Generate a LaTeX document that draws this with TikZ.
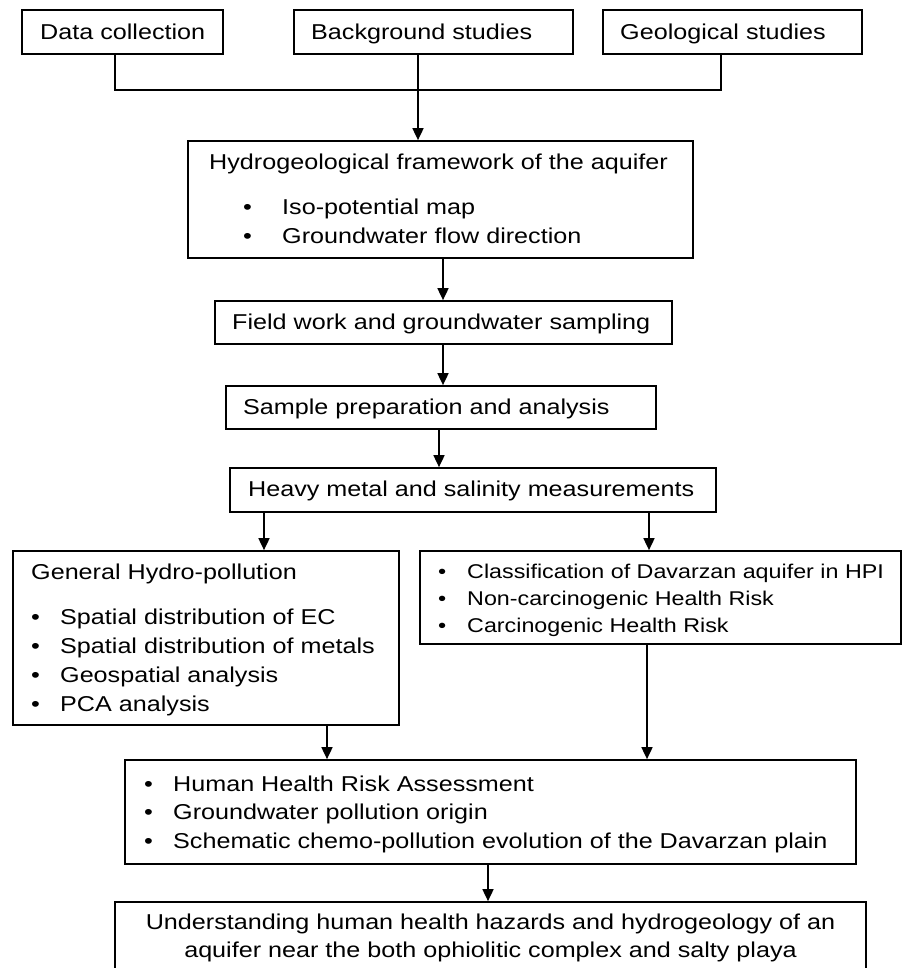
\documentclass[tikz,border=0pt]{standalone}
\usepackage{fontspec}
\setmainfont{Liberation Sans}[FakeStretch=1.17]
\usetikzlibrary{fit,arrows.meta}
\begin{document}
\begin{tikzpicture}[x=1pt,y=-1pt,
  box/.style={draw, line width=1.7pt, inner sep=0pt, rectangle},
  txt/.style={inner sep=0pt, anchor=base west, font=\fontsize{21.5}{26}\selectfont},
  txts/.style={inner sep=0pt, anchor=base west, font=\fontsize{19.9}{25}\selectfont},
  line/.style={line width=1.7pt},
  arr/.style={line width=1.7pt, -{Triangle[length=12pt,width=11pt]}}
]
\useasboundingbox (0,0) rectangle (903,968);

% boxes
\node[box, fit={(22,10) (223,54)}] (data) {};
\node[box, fit={(294,10) (573,54)}] (back) {};
\node[box, fit={(603,10) (862,54)}] (geo) {};
\node[box, fit={(188,141) (693,258)}] (hyd) {};
\node[box, fit={(215,301) (672,344)}] (field) {};
\node[box, fit={(226,386) (656,429)}] (sample) {};
\node[box, fit={(230,468) (716,512)}] (heavy) {};
\node[box, fit={(13,551) (399,725)}] (gen) {};
\node[box, fit={(420,551) (901,644)}] (risk) {};
\node[box, fit={(125,760) (856,864)}] (human) {};
\node[box, fit={(115,902) (866,980)}] (under) {};

% texts
\node[txt] (tdata) at (40,39.5) {Data collection};
\node[txt] (tback) at (311,39.5) {Background studies};
\node[txt] (tgeo) at (620,39.5) {Geological studies};

\node[txt] (thyd) at (209,169.5) {Hydrogeological framework of the aquifer};
\node[txt] (thyd1) at (243,214.5) {\makebox[39pt][l]{•}Iso-potential map};
\node[txt] (thyd2) at (243,243.5) {\makebox[39pt][l]{•}Groundwater flow direction};

\node[txt] (tfield) at (232,329.5) {Field work and groundwater sampling};
\node[txt] (tsample) at (243,414.5) {Sample preparation and analysis};
\node[txt] (theavy) at (248,496.5) {Heavy metal and salinity measurements};

\node[txt] (tgen) at (31,579.5) {General Hydro-pollution};
\node[txt] (tgen1) at (31,624.5) {\makebox[29pt][l]{•}Spatial distribution of EC};
\node[txt] (tgen2) at (31,653.5) {\makebox[29pt][l]{•}Spatial distribution of metals};
\node[txt] (tgen3) at (31,682.5) {\makebox[29pt][l]{•}Geospatial analysis};
\node[txt] (tgen4) at (31,711.5) {\makebox[29pt][l]{•}PCA analysis};

\node[txts] (trisk1) at (438,578.5) {\makebox[29pt][l]{•}Classification of Davarzan aquifer in HPI};
\node[txts] (trisk2) at (438,605.5) {\makebox[29pt][l]{•}Non-carcinogenic Health Risk};
\node[txts] (trisk3) at (438,632.5) {\makebox[29pt][l]{•}Carcinogenic Health Risk};

\node[txt] (thum1) at (144,791.5) {\makebox[29pt][l]{•}Human Health Risk Assessment};
\node[txt] (thum2) at (144,819.5) {\makebox[29pt][l]{•}Groundwater pollution origin};
\node[txt] (thum3) at (144,848.5) {\makebox[29pt][l]{•}Schematic chemo-pollution evolution of the Davarzan plain};

\node[txt, anchor=base] (tund1) at (490.5,929.5) {Understanding human health hazards and hydrogeology of an};
\node[txt, anchor=base] (tund2) at (490.5,957.5) {aquifer near the both ophiolitic complex and salty playa};

% connector coordinates
\coordinate (c1) at (115,90);
\coordinate (c2) at (418,90);
\coordinate (c3) at (721,90);
\coordinate (x1) at (443,0);
\coordinate (x2) at (439,0);
\coordinate (x3) at (264,0);
\coordinate (x4) at (649,0);
\coordinate (x5) at (327,0);
\coordinate (x6) at (647,0);
\coordinate (x7) at (488,0);

% connectors
\draw[line] (data.south -| c1) -- (c1) -- (c3) -- (geo.south -| c3);
\draw[arr] (back.south -| c2) -- (hyd.north -| c2);
\draw[arr] (hyd.south -| x1) -- (field.north -| x1);
\draw[arr] (field.south -| x1) -- (sample.north -| x1);
\draw[arr] (sample.south -| x2) -- (heavy.north -| x2);
\draw[arr] (heavy.south -| x3) -- (gen.north -| x3);
\draw[arr] (heavy.south -| x4) -- (risk.north -| x4);
\draw[arr] (gen.south -| x5) -- (human.north -| x5);
\draw[arr] (risk.south -| x6) -- (human.north -| x6);
\draw[arr] (human.south -| x7) -- (under.north -| x7);
\end{tikzpicture}
\end{document}
